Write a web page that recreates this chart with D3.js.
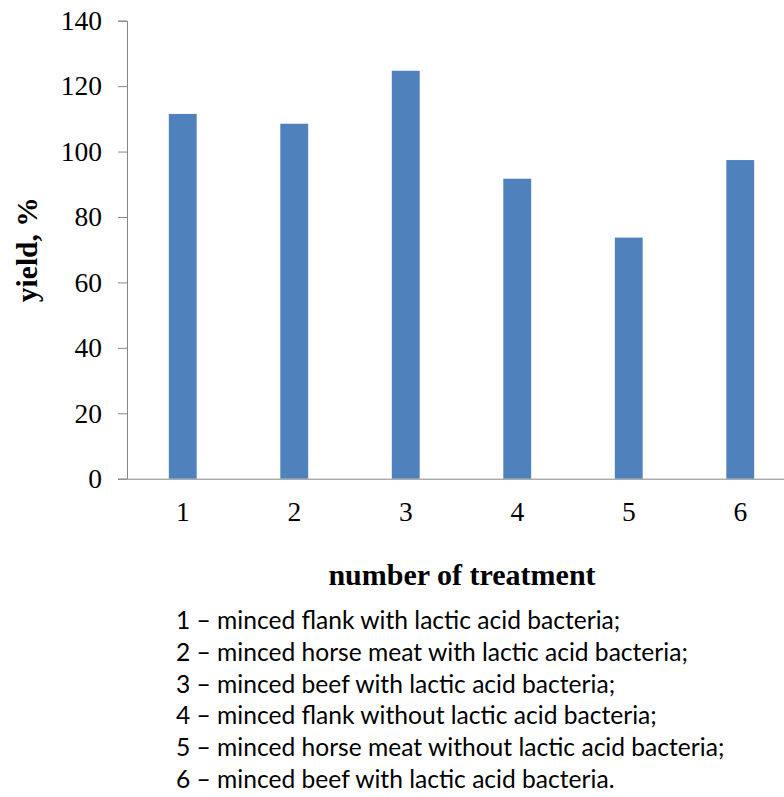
<!DOCTYPE html>
<html lang="en">
  <head>
    <meta charset="UTF-8" />
    <title>Yield by treatment</title>
    <script src="https://d3js.org/d3.v7.min.js"></script>
    <style>
      body { margin: 0; background: #fff; }
    </style>
  </head>
  <body>
    <script>
      var treatments = ["1", "2", "3", "4", "5", "6"];
      var yieldValues = [111.5, 108.5, 124.7, 91.7, 73.7, 97.4];
      var yTicks = [0, 20, 40, 60, 80, 100, 120, 140];
      var legendLines = [
        "1 \u2013 minced flank with lactic acid bacteria;",
        "2 \u2013 minced horse meat with lactic acid bacteria;",
        "3 \u2013 minced beef with lactic acid bacteria;",
        "4 \u2013 minced flank without lactic acid bacteria;",
        "5 \u2013 minced horse meat without lactic acid bacteria;",
        "6 \u2013 minced beef with lactic acid bacteria."
      ];

      var width = 784, height = 797;
      var plot = { left: 127, top: 20.7, bottom: 478.7, right: 796 };
      var axisColor = "#868686";
      var serif = "'Liberation Serif', 'Times New Roman', serif";

      var svg = d3
        .select("body")
        .append("svg")
        .attr("width", width)
        .attr("height", height);

      var data = treatments.map(function (t, i) {
        return { name: t, value: yieldValues[i] };
      });

      var xScale = d3
        .scaleBand()
        .domain(treatments)
        .range([plot.left, plot.right])
        .paddingInner(0.75)
        .paddingOuter(0.375);

      var yScale = d3.scaleLinear().domain([0, 140]).range([plot.bottom, plot.top]);

      // bars
      svg
        .selectAll(".bar")
        .data(data)
        .enter()
        .append("rect")
        .attr("class", "bar")
        .attr("x", function (d) { return xScale(d.name); })
        .attr("width", xScale.bandwidth())
        .attr("y", function (d) { return yScale(d.value); })
        .attr("height", function (d) { return plot.bottom - yScale(d.value); })
        .attr("fill", "#4F81BD");

      // y axis
      var yAxis = svg
        .append("g")
        .attr("transform", "translate(" + plot.left + ",0)")
        .call(d3.axisLeft(yScale).tickValues(yTicks).tickSize(9).tickPadding(16));
      yAxis.select(".domain").attr("stroke", axisColor);
      yAxis.selectAll(".tick line").attr("stroke", axisColor);
      yAxis
        .selectAll(".tick text")
        .attr("fill", "#000")
        .style("font-family", serif)
        .style("font-size", "27.5px");

      // x axis
      var xAxis = svg
        .append("g")
        .attr("transform", "translate(0," + plot.bottom + ")")
        .call(d3.axisBottom(xScale).tickSize(0).tickPadding(23).tickSizeOuter(0));
      xAxis.select(".domain").attr("stroke", axisColor);
      xAxis
        .selectAll(".tick text")
        .attr("fill", "#000")
        .style("font-family", serif)
        .style("font-size", "27.5px");

      // axis titles
      svg
        .append("text")
        .attr("x", 462)
        .attr("y", 585)
        .attr("text-anchor", "middle")
        .style("font-family", serif)
        .style("font-weight", "bold")
        .style("font-size", "30px")
        .text("number of treatment");

      svg
        .append("text")
        .attr("transform", "rotate(-90)")
        .attr("x", -(plot.top + plot.bottom) / 2)
        .attr("y", 37)
        .attr("text-anchor", "middle")
        .style("font-family", serif)
        .style("font-weight", "bold")
        .style("font-size", "29.5px")
        .text("yield, %");

      // legend text under chart
      svg
        .selectAll(".legend")
        .data(legendLines)
        .enter()
        .append("text")
        .attr("class", "legend")
        .attr("x", 176)
        .attr("y", function (d, i) { return 629 + i * 31.8; })
        .style("font-family", "Lato, 'Open Sans', sans-serif")
        .style("font-size", "24.6px")
        .attr("fill", "#000")
        .text(function (d) { return d; });
    </script>
  </body>
</html>
